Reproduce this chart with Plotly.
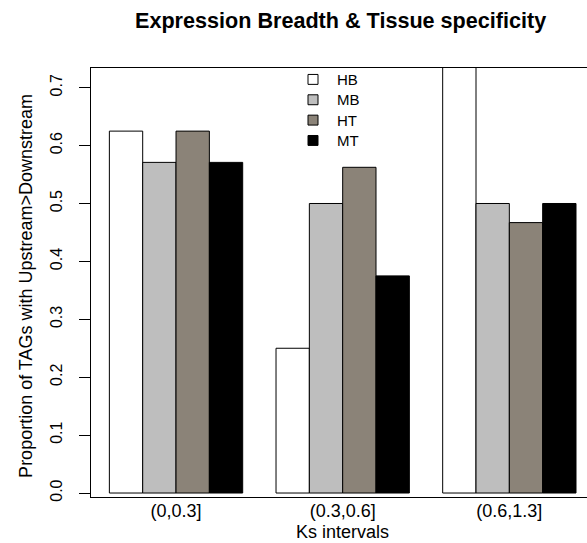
import plotly.graph_objects as go

categories = ["(0,0.3]", "(0.3,0.6]", "(0.6,1.3]"]
series_names = ["HB", "MB", "HT", "MT"]
HB = [0.625, 0.25, 0.75]
MB = [0.571, 0.5, 0.5]
HT = [0.625, 0.5625, 0.467]
MT = [0.571, 0.375, 0.5]
series_values = [HB, MB, HT, MT]
colors = ["#FFFFFF", "#BEBEBE", "#8B8378", "#000000"]
y_ticks = [0.0, 0.1, 0.2, 0.3, 0.4, 0.5, 0.6, 0.7]
y_ticktext = ["0.0", "0.1", "0.2", "0.3", "0.4", "0.5", "0.6", "0.7"]

W, H = 587, 543
FONT = "Liberation Sans, Arial, Helvetica, sans-serif"

fig = go.Figure()
for name, vals, col in zip(series_names, series_values, colors):
    fig.add_trace(go.Bar(
        x=categories, y=vals, name=name,
        marker=dict(color=col, line=dict(color="black", width=1)),
        showlegend=False,
    ))

# plot region in pixels
left_px, top_px, bottom_px = 90.7, 68.5, 501.0

fig.update_layout(
    width=W, height=H,
    margin=dict(l=0, r=0, t=0, b=0),
    paper_bgcolor="white", plot_bgcolor="white",
    barmode="group", bargap=0.2, bargroupgap=0,
    font=dict(family=FONT, color="black"),
    xaxis=dict(
        domain=[left_px / W, 1],
        type="category",
        range=[-0.512, 2.466],
        showline=True, mirror=True, linecolor="black", linewidth=1,
        ticks="", showgrid=False, zeroline=False,
        tickfont=dict(size=18, family=FONT, color="black"),
        ticklabelstandoff=-3,
    ),
    yaxis=dict(
        domain=[(H - bottom_px) / H, (H - top_px) / H],
        range=[-0.0074, 0.734],
        showline=True, mirror=False, linecolor="black", linewidth=1,
        ticks="outside", ticklen=11, tickcolor="black", tickwidth=1,
        tickvals=y_ticks, ticktext=y_ticktext, tickangle=-90,
        showgrid=False, zeroline=False,
        tickfont=dict(size=16, family=FONT, color="black"),
        ticklabelstandoff=10,
    ),
)

annotations = [
    dict(text="<b>Expression Breadth & Tissue specificity</b>", x=340 / W, y=1 - 21 / H,
         xref="paper", yref="paper", xanchor="center", yanchor="middle",
         showarrow=False, font=dict(size=21.6, family=FONT, color="black")),
    dict(text="Ks intervals", x=342 / W, y=1 - 536 / H,
         xref="paper", yref="paper", xanchor="center", yanchor="middle",
         showarrow=False, borderpad=0, font=dict(size=18, family=FONT, color="black")),
    dict(text="Proportion of TAGs with Upstream>Downstream", x=26 / W, y=1 - 288 / H,
         xref="paper", yref="paper", xanchor="center", yanchor="middle", textangle=-90,
         showarrow=False, font=dict(size=18, family=FONT, color="black")),
]

shapes = []
leg_y = [80, 100.5, 121, 141.5]
for name, col, yc in zip(series_names, colors, leg_y):
    shapes.append(dict(type="rect", xref="paper", yref="paper",
                       x0=308 / W, x1=318 / W, y0=1 - (yc - 5) / H, y1=1 - (yc + 5) / H,
                       fillcolor=col, line=dict(color="black", width=1)))
    annotations.append(dict(text=name, x=335 / W, y=1 - yc / H, xref="paper", yref="paper",
                            xanchor="left", yanchor="middle", showarrow=False,
                            font=dict(size=15, family=FONT, color="black")))

fig.update_layout(annotations=annotations, shapes=shapes)
fig.write_html("out.html")
